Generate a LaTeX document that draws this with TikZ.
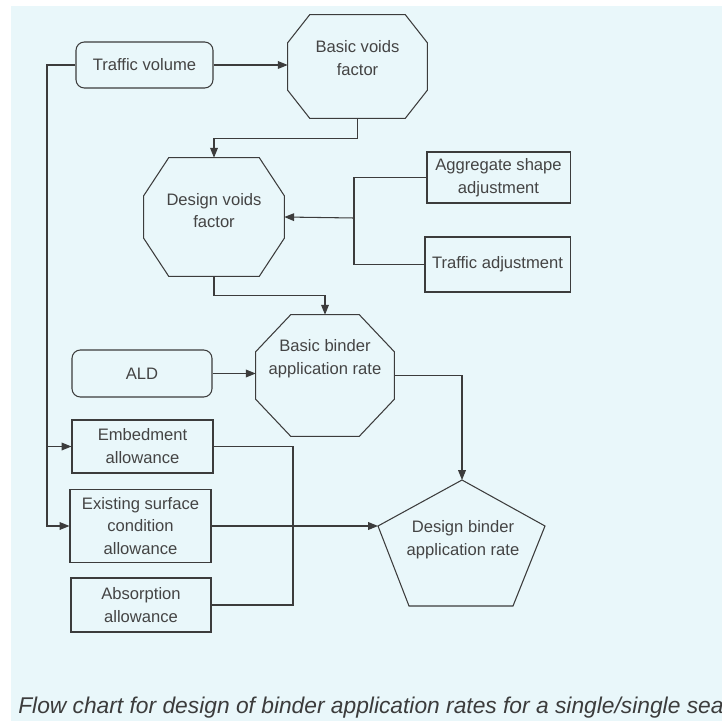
\documentclass[tikz,border=0pt]{standalone}
\usepackage{fontspec}
\setmainfont{Liberation Sans}
\usetikzlibrary{arrows.meta}
\definecolor{paper}{RGB}{233,247,250}
\definecolor{ink}{RGB}{60,60,60}
\definecolor{txt}{RGB}{68,68,68}
% octagon round a (rectangular) node: name, x cut, y cut
\newcommand{\octa}[3]{\draw[con] ([xshift=#2]#1.north west) -- ([xshift=-#2]#1.north east) -- ([yshift=-#3]#1.north east)
    -- ([yshift=#3]#1.south east) -- ([xshift=-#2]#1.south east) -- ([xshift=#2]#1.south west)
    -- ([yshift=#3]#1.south west) -- ([yshift=-#3]#1.north west) -- cycle;}
\begin{document}
\begin{tikzpicture}[x=0.025cm,y=-0.025cm]
        \tikzset{t/.style={text=txt, align=center, inner sep=0pt, font=\fontsize{11.8}{16.3}\selectfont},
            b/.style={t, draw=ink, line width=.75pt},
            rb/.style={b, rounded corners=6pt},
            o/.style={inner sep=0pt},
            con/.style={draw=ink, line width=.75pt},
            arr/.style={con, -{Triangle[length=7pt,width=5.5pt]}}}
        \useasboundingbox (0,0) rectangle (722,721);
        \fill[white] (0,0) rectangle (722,721);
        \fill[paper] (11,6) rectangle (722,721);

        \draw node[rb, minimum width=3.425cm, minimum height=1.15cm] (tv) at (144.5,65) {Traffic volume};
        \node[o, minimum width=3.475cm, minimum height=2.575cm] (bvf) at (357.5,66.5) {};
        \octa{bvf}{.55cm}{.7cm}
        \node[t] (bvf-t) at ([yshift=.2cm]bvf) {Basic voids\\factor};
        \node[o, minimum width=3.5cm, minimum height=2.95cm] (dvf) at (214,217) {};
        \octa{dvf}{.625cm}{.95cm}
        \node[t] (dvf-t) at ([yshift=.16cm]dvf) {Design voids\\factor};
        \draw node[b, minimum width=3.575cm, minimum height=1.275cm] (asa) at (498.5,177.5) {Aggregate shape\\adjustment};
        \draw node[b, minimum width=3.625cm, minimum height=1.375cm] (tadj) at (497.5,264.5) {Traffic adjustment};
        \node[o, minimum width=3.45cm, minimum height=3.025cm] (bbar) at (325,375.5) {};
        \octa{bbar}{.875cm}{.925cm}
        \node[t] (bbar-t) at ([yshift=.42cm]bbar) {Basic binder\\application rate};
        \draw node[rb, minimum width=3.5cm, minimum height=1.175cm] (ald) at (142,373.5) {ALD};
        \draw node[b, minimum width=3.525cm, minimum height=1.325cm] (emb) at (142.5,446.5) {Embedment\\allowance};
        \draw node[b, minimum width=3.525cm, minimum height=1.825cm] (esc) at (140.5,526) {Existing surface\\condition\\allowance};
        \draw node[b, minimum width=3.5cm, minimum height=1.35cm] (abs) at (141,605) {Absorption\\allowance};

        % design binder pentagon
        \coordinate (dbtop) at (462,480);
        \coordinate (dbright) at (545,526);
        \coordinate (dbbr) at (513,606);
        \coordinate (dbbl) at (409,606);
        \coordinate (dbleft) at (378,526);
        \draw[con] (dbtop) -- (dbright) -- (dbbr) -- (dbbl) -- (dbleft) -- cycle;
        \node[t] (dbar) at (463,540) {Design binder\\application rate};

        \coordinate (vj) at (354,218);
        \coordinate (lft) at (47,526);
        \coordinate (rj) at (293,526);

        \draw[arr] (tv.east) -- (tv.east -| bvf.west);
        \draw[arr] (bvf.south) -- ++(0,20) -| (dvf.north);
        \draw[con] (asa.west) -| (vj) |- (tadj.west);
        \draw[arr] (vj) -- (dvf.east);
        \draw[arr] (dvf.south) -- ++(0,19) -| (bbar.north);
        \draw[arr] (ald.east) -- (ald.east -| bbar.west);
        \draw[arr] (bbar.east) -| (dbtop);
        \draw[arr] (tv.west) -| (lft) -- (esc.west);
        \draw[arr] (emb.west -| lft) -- (emb.west);
        \draw[con] (emb.east) -| (rj) |- (abs.east);
        \draw[arr] (esc.east) -- (dbleft);

        \node[anchor=base west, text=ink, inner sep=0pt, font=\fontsize{16.2}{19}\selectfont\itshape] (cap) at (18,713)
            {Flow chart for design of binder application rates for a single/single sea};
    \end{tikzpicture}
\end{document}
